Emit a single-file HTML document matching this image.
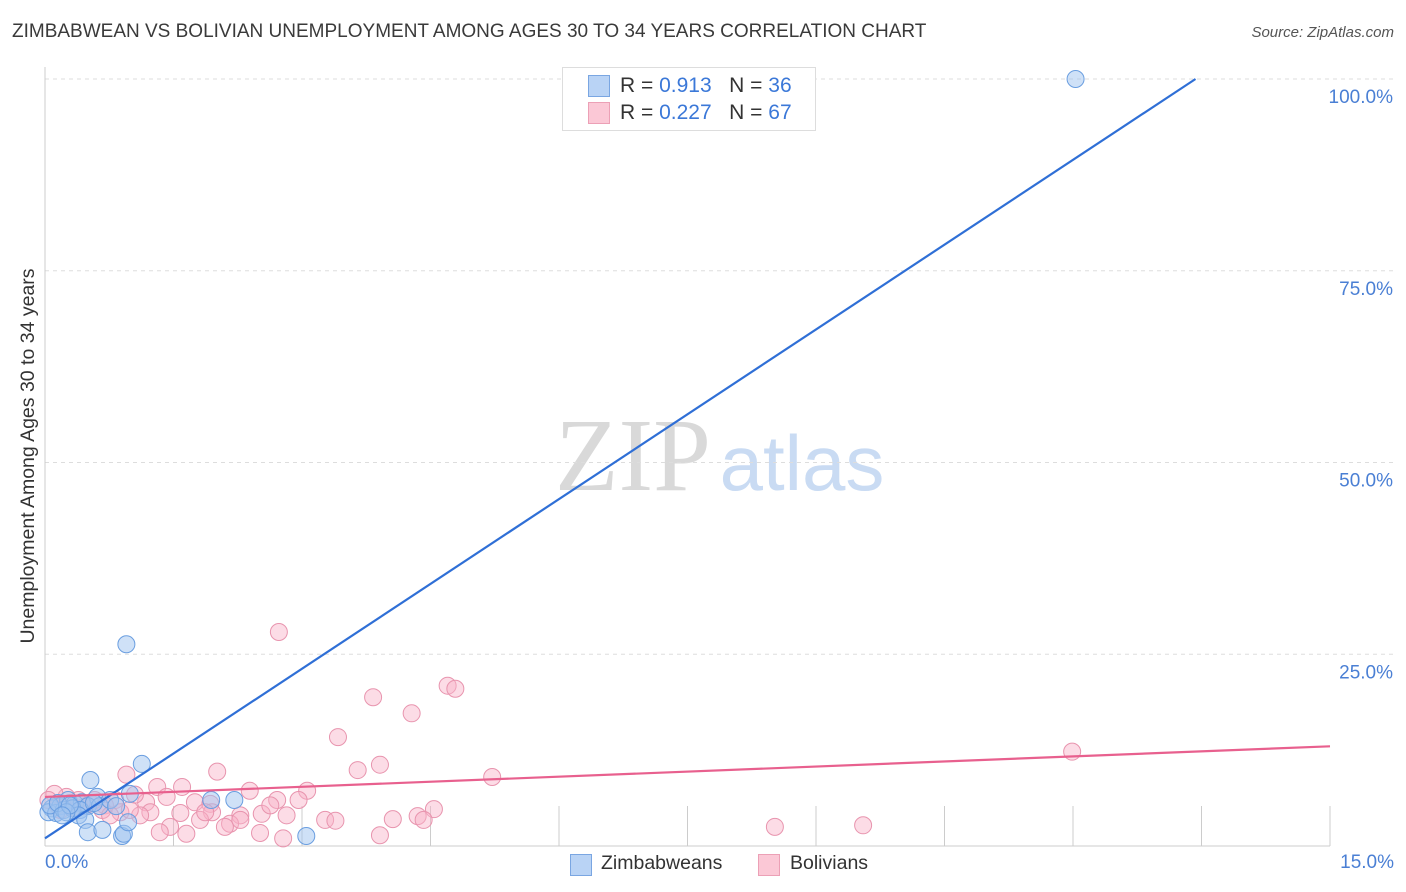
<!DOCTYPE html>
<html><head><meta charset="utf-8">
<style>
body{margin:0;background:#fff;font-family:"Liberation Sans",sans-serif;}
#wrap{position:relative;width:1406px;height:892px;overflow:hidden;}
.t{position:absolute;white-space:nowrap;}
</style></head>
<body>
<div id="wrap">
<div class="t" style="left:12px;top:21px;font-size:19px;color:#3a3a3a;">ZIMBABWEAN VS BOLIVIAN UNEMPLOYMENT AMONG AGES 30 TO 34 YEARS CORRELATION CHART</div>
<div class="t" style="right:12px;top:24px;font-size:15px;color:#555;font-style:italic;">Source: ZipAtlas.com</div>
<svg id="plot" width="1406" height="892" style="position:absolute;left:0;top:0">
<text x="633" y="490" font-family="Liberation Serif,serif" font-size="104" fill="#d9d9d9" text-anchor="middle">ZIP</text>
<text x="802" y="490" font-family="Liberation Sans,sans-serif" font-size="78" fill="#c9dbf3" text-anchor="middle">atlas</text>
<text transform="translate(34,456) rotate(-90)" font-size="19.5" fill="#333" text-anchor="middle">Unemployment Among Ages 30 to 34 years</text>
</svg>
<div class="t" style="left:562px;top:67px;width:252px;height:62px;border:1px solid #ddd;background:#fff;"></div>
<div class="t" style="left:588px;top:75px;width:20px;height:20px;background:#b9d3f5;border:1px solid #7aa6e2;"></div>
<div class="t" style="left:620px;top:74px;font-size:21px;color:#333;">R = <span style="color:#3b78d8">0.913</span>&nbsp;&nbsp;&nbsp;N = <span style="color:#3b78d8">36</span></div>
<div class="t" style="left:588px;top:102px;width:20px;height:20px;background:#fbc8d6;border:1px solid #eca0b6;"></div>
<div class="t" style="left:620px;top:101px;font-size:21px;color:#333;">R = <span style="color:#3b78d8">0.227</span>&nbsp;&nbsp;&nbsp;N = <span style="color:#3b78d8">67</span></div>
<div class="t" style="left:45px;top:852px;font-size:19px;color:#4a7fd4;">0.0%</div>
<div class="t" style="right:12px;top:852px;font-size:19px;color:#4a7fd4;">15.0%</div>
<div class="t" style="left:570px;top:854px;width:20px;height:20px;background:#b9d3f5;border:1px solid #7aa6e2;"></div>
<div class="t" style="left:601px;top:852px;font-size:19.5px;color:#333;">Zimbabweans</div>
<div class="t" style="left:758px;top:854px;width:20px;height:20px;background:#fbc8d6;border:1px solid #eca0b6;"></div>
<div class="t" style="left:790px;top:852px;font-size:19.5px;color:#333;">Bolivians</div>
</div>
<script>
const yTicks=[25,50,75,100];
const yTickLabels=["25.0%","50.0%","75.0%","100.0%"];
const xTicks=[0,1.5,3,4.5,6,7.5,9,10.5,12,13.5,15];
const zimX=[12.03,0.95,1.13,0.53,0.99,0.61,1.94,2.21,0.08,0.18,0.27,0.35,0.43,0.50,0.04,0.13,0.22,0.32,0.41,0.06,0.15,0.39,0.64,0.76,0.47,0.50,0.67,0.90,0.92,0.97,3.05,0.25,0.29,0.20,0.57,0.83];
const zimY=[100.0,26.3,10.7,8.6,6.8,6.4,6.0,6.0,4.9,5.2,6.0,5.5,5.7,5.2,4.4,4.3,4.7,4.9,4.7,5.3,5.6,4.0,5.2,6.0,3.4,1.8,2.1,1.3,1.6,3.1,1.3,4.4,5.3,4.0,5.6,5.2];
const bolX=[2.73,4.70,4.79,3.83,4.28,3.42,11.99,3.91,3.65,5.22,0.95,2.01,1.60,1.31,2.39,3.06,4.54,2.71,2.96,1.75,1.93,1.18,1.05,1.42,0.82,0.70,0.53,0.25,0.11,0.04,0.18,0.33,0.47,0.67,0.88,1.23,1.58,1.95,2.28,2.53,2.82,3.27,3.39,4.06,4.35,4.42,2.16,1.81,1.46,1.65,1.34,2.51,2.78,3.91,8.52,9.55,0.29,0.39,0.58,0.15,2.10,1.11,0.76,2.28,0.99,1.87,2.63];
const bolY=[27.9,20.9,20.5,19.4,17.3,14.2,12.3,10.6,9.9,9.0,9.3,9.7,7.7,7.7,7.2,7.2,4.8,6.0,6.0,5.7,5.5,5.7,6.7,6.4,6.0,5.3,5.6,6.4,6.8,6.0,4.7,5.0,5.2,4.7,4.4,4.4,4.3,4.4,4.0,4.2,4.0,3.4,3.3,3.5,3.9,3.4,2.9,3.4,2.5,1.6,1.8,1.7,1.0,1.4,2.5,2.7,5.6,6.0,6.0,5.3,2.5,4.0,4.0,3.4,4.7,4.4,5.3];
const zimTrendX=[0,13.43];
const zimTrendY=[1.0,100];
const bolTrendX=[0,15];
const bolTrendY=[6.4,13.0];

const X0=45,X1=1330,Y0=846,Y100=79;
const sx=v=>X0+(X1-X0)*v/15;
const sy=v=>Y0-(Y0-Y100)*v/100;
const svg=document.getElementById('plot');
const NS='http://www.w3.org/2000/svg';
function mk(tag,attrs){const e=document.createElementNS(NS,tag);for(const k in attrs)e.setAttribute(k,attrs[k]);svg.appendChild(e);return e;}

yTicks.forEach((v,i)=>{
  const g=mk('line',{x1:X0,x2:1395,y1:sy(v),y2:sy(v),stroke:'#ddd','stroke-dasharray':'4,4'});
  
  
  const t=mk('text',{x:1393,y:sy(v)+24,'text-anchor':'end','font-size':19,fill:'#4a7fd4'});
  t.textContent=yTickLabels[i];
  
  
});
xTicks.forEach(v=>{
  const l=mk('line',{x1:sx(v),x2:sx(v),y1:Y0,y2:Y0-40,stroke:'#ccc'});
  
  
});
const ax=mk('line',{x1:X0,x2:X0,y1:67,y2:Y0,stroke:'#ccc'});


const bx=mk('line',{x1:X0,x2:X1,y1:Y0,y2:Y0,stroke:'#ccc'});



bolX.forEach((v,i)=>{
  const c=mk('circle',{cx:sx(v),cy:sy(bolY[i]),r:8.5,fill:'rgba(248,178,200,0.45)',stroke:'#e894ae','stroke-width':1});
  
  
});
zimX.forEach((v,i)=>{
  const c=mk('circle',{cx:sx(v),cy:sy(zimY[i]),r:8.5,fill:'rgba(160,196,240,0.5)',stroke:'#6a9ee0','stroke-width':1});
  
  
});
const zl=mk('line',{x1:sx(zimTrendX[0]),y1:sy(zimTrendY[0]),x2:sx(zimTrendX[1]),y2:sy(zimTrendY[1]),stroke:'#2f6fd6','stroke-width':2.2});


const bl=mk('line',{x1:sx(bolTrendX[0]),y1:sy(bolTrendY[0]),x2:sx(bolTrendX[1]),y2:sy(bolTrendY[1]),stroke:'#e8608e','stroke-width':2.2});


</script>
</body></html>
